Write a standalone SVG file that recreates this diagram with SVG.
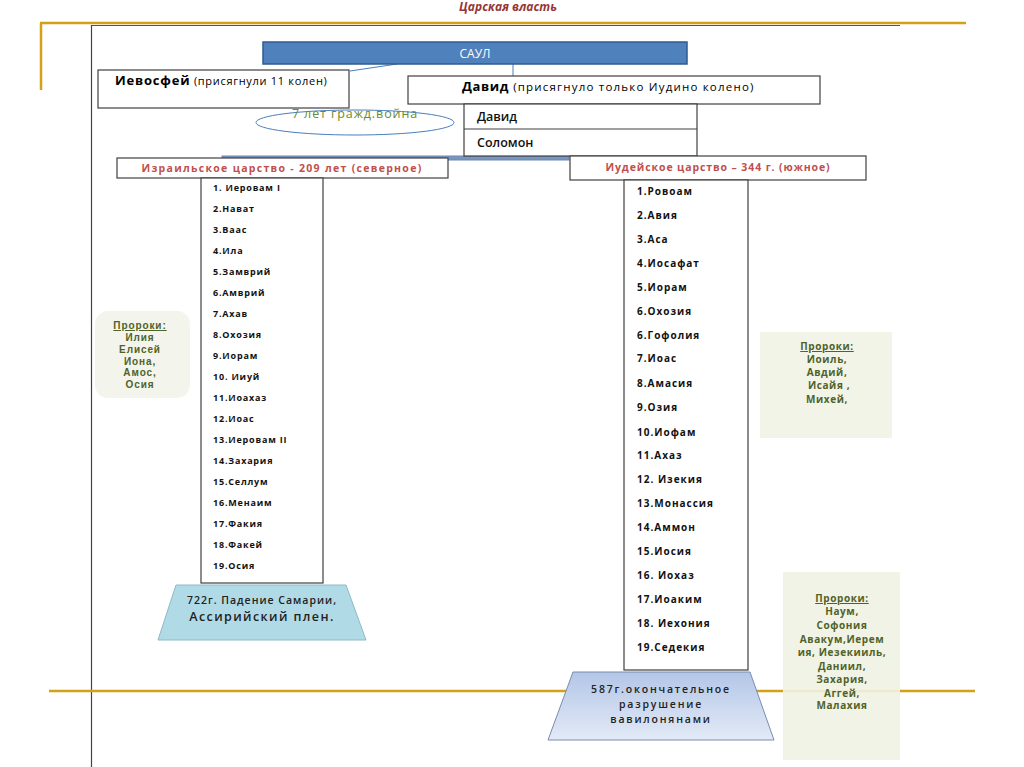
<svg xmlns="http://www.w3.org/2000/svg" width="1024" height="767" viewBox="0 0 1024 767">
<defs>
<style>
.box{fill:#fff;stroke:#404040;stroke-width:1.2}
.t{font-family:"Open Sans","Liberation Sans",sans-serif}
.li{font-family:"Open Sans","Liberation Sans",sans-serif;font-weight:bold;font-size:9px;fill:#111;letter-spacing:0.8px}
.ri{font-family:"Open Sans","Liberation Sans",sans-serif;font-weight:bold;font-size:10px;fill:#111;letter-spacing:1px}
.pr{font-family:"Open Sans","Liberation Sans",sans-serif;font-weight:bold;font-size:10px;fill:#4f6228;text-anchor:middle;letter-spacing:0.6px}
.pl{font-family:"Liberation Sans",Arial,sans-serif;font-weight:bold;font-size:10px;fill:#4f6228;text-anchor:middle;letter-spacing:0.9px}
.hd{font-family:"Open Sans","Liberation Sans",sans-serif;font-weight:bold;font-size:10.5px;fill:#c0504d;text-anchor:middle}
.gold{stroke:#d4a017;stroke-width:2.5}
</style>
<linearGradient id="g2" x1="0" y1="0" x2="0" y2="1">
<stop offset="0" stop-color="#b3c6e7"/>
<stop offset="1" stop-color="#e3eaf6"/>
</linearGradient>
</defs>
<rect width="1024" height="767" fill="#fff"/>
<g id="frame">
<line class="gold" x1="40" y1="23" x2="966" y2="23"/>
<line class="gold" x1="41" y1="23" x2="41" y2="90"/>
<line x1="91" y1="25.5" x2="900" y2="25.5" stroke="#555" stroke-width="1"/>
<line x1="91.5" y1="25" x2="91.5" y2="767" stroke="#444" stroke-width="1.2"/>
<line class="gold" x1="49" y1="691" x2="975" y2="691"/>
</g>
<text x="508" y="11" class="t" font-size="12" font-weight="bold" font-style="italic" fill="#953735" text-anchor="middle">Царская власть</text>
<g id="connectors" stroke="#4a7ebb" stroke-width="1" fill="none">
<line x1="397" y1="64" x2="350" y2="71"/>
<line x1="513" y1="64" x2="513" y2="76"/>
<rect x="222" y="156" width="347" height="4" fill="#7896bf" stroke="#6a88b2"/>
</g>
<g id="saul">
<rect x="263" y="42" width="424" height="22" fill="#4f81bd" stroke="#2f5b8f" stroke-width="1.5"/>
<text x="475" y="58" class="t" font-size="12" fill="#fff" text-anchor="middle">САУЛ</text>
</g>
<g id="ievosfey">
<rect class="box" x="98" y="70" width="251" height="38"/>
<text x="115" y="85" class="t" fill="#000"><tspan font-size="13" font-weight="bold" letter-spacing="0.8">Иевосфей</tspan><tspan font-size="11" letter-spacing="0.7"> (присягнули 11 колен)</tspan></text>
</g>
<g id="war">
<ellipse cx="355" cy="122.5" rx="99" ry="12.5" fill="none" stroke="#4a7ebb" stroke-width="1"/>
<text x="355" y="118" class="t" font-size="12.5" fill="#6a8a30" text-anchor="middle" letter-spacing="0.9">7 лет гражд.война</text>
</g>
<g id="david">
<rect class="box" x="408" y="76" width="412" height="28"/>
<text x="462" y="91" class="t" fill="#000"><tspan font-size="13" font-weight="bold" letter-spacing="0.6">Давид</tspan><tspan font-size="11.5" letter-spacing="1.2">  (присягнуло только Иудино колено)</tspan></text>
</g>
<g id="kings-united">
<rect class="box" x="464" y="104" width="233" height="52"/>
<line x1="464" y1="129" x2="697" y2="129" stroke="#404040" stroke-width="1.2"/>
<text x="477" y="121" class="t" font-size="12.5" font-weight="600" fill="#111">Давид</text>
<text x="477" y="147" class="t" font-size="12.5" font-weight="600" fill="#111">Соломон</text>
</g>
<g id="israel-header">
<rect class="box" x="117" y="158" width="331" height="20"/>
<text x="282" y="172" class="hd" letter-spacing="1.3">Израильское царство - 209 лет (северное)</text>
</g>
<g id="judah-header">
<rect class="box" x="570" y="156" width="296" height="24"/>
<text x="718" y="171" class="hd" letter-spacing="0.9">Иудейское царство – 344 г. (южное)</text>
</g>
<g id="israel-list">
<rect class="box" x="201" y="178" width="122" height="405"/>
<text class="li" x="213" y="191">1. Иеровам I</text>
<text class="li" x="213" y="212">2.Нават</text>
<text class="li" x="213" y="233">3.Ваас</text>
<text class="li" x="213" y="254">4.Ила</text>
<text class="li" x="213" y="275">5.Замврий</text>
<text class="li" x="213" y="296">6.Амврий</text>
<text class="li" x="213" y="317">7.Ахав</text>
<text class="li" x="213" y="338">8.Охозия</text>
<text class="li" x="213" y="359">9.Иорам</text>
<text class="li" x="213" y="380">10. Ииуй</text>
<text class="li" x="213" y="401">11.Иоахаз</text>
<text class="li" x="213" y="422">12.Иоас</text>
<text class="li" x="213" y="443">13.Иеровам II</text>
<text class="li" x="213" y="464">14.Захария</text>
<text class="li" x="213" y="485">15.Селлум</text>
<text class="li" x="213" y="506">16.Менаим</text>
<text class="li" x="213" y="527">17.Факия</text>
<text class="li" x="213" y="548">18.Факей</text>
<text class="li" x="213" y="569">19.Осия</text>
</g>
<g id="judah-list">
<rect class="box" x="624" y="180" width="124" height="490"/>
<text class="ri" x="637" y="195">1.Ровоам</text>
<text class="ri" x="637" y="219">2.Авия</text>
<text class="ri" x="637" y="243">3.Аса</text>
<text class="ri" x="637" y="267">4.Иосафат</text>
<text class="ri" x="637" y="291">5.Иорам</text>
<text class="ri" x="637" y="315">6.Охозия</text>
<text class="ri" x="637" y="339">6.Гофолия</text>
<text class="ri" x="637" y="362">7.Иоас</text>
<text class="ri" x="637" y="387">8.Амасия</text>
<text class="ri" x="637" y="411">9.Озия</text>
<text class="ri" x="637" y="436">10.Иофам</text>
<text class="ri" x="637" y="459">11.Ахаз</text>
<text class="ri" x="637" y="483">12. Изекия</text>
<text class="ri" x="637" y="507">13.Монассия</text>
<text class="ri" x="637" y="531">14.Аммон</text>
<text class="ri" x="637" y="555">15.Иосия</text>
<text class="ri" x="637" y="579">16. Иохаз</text>
<text class="ri" x="637" y="603">17.Иоаким</text>
<text class="ri" x="637" y="627">18. Иехония</text>
<text class="ri" x="637" y="651">19.Седекия</text>
</g>
<g id="prophets-israel">
<rect x="95" y="311" width="95" height="87" rx="13" fill="#f3f5ec"/>
<text class="pl" x="140" y="329" text-decoration="underline">Пророки:</text>
<text class="pl" x="140" y="341">Илия</text>
<text class="pl" x="140" y="353">Елисей</text>
<text class="pl" x="140" y="364.7">Иона,</text>
<text class="pl" x="140" y="376.4">Амос,</text>
<text class="pl" x="140" y="388.1">Осия</text>
</g>
<g id="prophets-judah-1">
<rect x="760" y="332" width="132" height="106" fill="#f2f4e8"/>
<text class="pr" x="827" y="350" text-decoration="underline">Пророки:</text>
<text class="pr" x="827" y="363">Иоиль,</text>
<text class="pr" x="827" y="376">Авдий,</text>
<text class="pr" x="829" y="389">Исайя ,</text>
<text class="pr" x="827" y="403">Михей,</text>
</g>
<g id="prophets-judah-2">
<rect x="783" y="572" width="117" height="188" fill="#eff2e3" opacity="0.9"/>
<text class="pr" x="842" y="602" text-decoration="underline">Пророки:</text>
<text class="pr" x="842" y="615">Наум,</text>
<text class="pr" x="842" y="629">Софония</text>
<text class="pr" x="842" y="643">Авакум,Иерем</text>
<text class="pr" x="842" y="656">ия, Иезекииль,</text>
<text class="pr" x="842" y="670">Даниил,</text>
<text class="pr" x="842" y="683">Захария,</text>
<text class="pr" x="842" y="697">Аггей,</text>
<text class="pr" x="842" y="709">Малахия</text>
</g>
<g id="samaria">
<polygon points="176,585 346,585 366,640 158,640" fill="#b0dbe6" stroke="#8fb8c8" stroke-width="1"/>
<text x="262" y="604" class="t" font-size="10.5" font-weight="600" fill="#222" text-anchor="middle" letter-spacing="1">722г. Падение Самарии,</text>
<text x="262" y="621" class="t" font-size="12.5" font-weight="600" fill="#222" text-anchor="middle" letter-spacing="1.4">Ассирийский плен.</text>
</g>
<g id="babylon">
<polygon points="573,672 750,672 774,740 548,740" fill="url(#g2)" stroke="#7a8cad" stroke-width="1"/>
<text x="661" y="693" class="t" font-size="10.5" font-weight="600" fill="#222" text-anchor="middle" letter-spacing="1.8">587г.окончательное</text>
<text x="661" y="708" class="t" font-size="10.5" font-weight="600" fill="#222" text-anchor="middle" letter-spacing="1.8">разрушение</text>
<text x="661" y="723" class="t" font-size="10.5" font-weight="600" fill="#222" text-anchor="middle" letter-spacing="1.8">вавилонянами</text>
</g>
</svg>
